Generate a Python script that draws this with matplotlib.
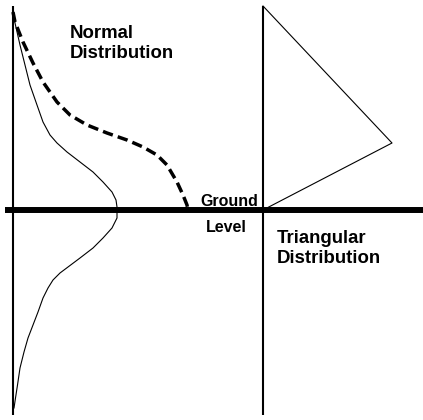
import matplotlib.pyplot as plt

# heights above ground level (negative = below) and curve values
normal_height = [194, 187, 165, 145, 125, 105, 88, 75, 67, 58, 48, 38, 28, 18, 10, 3,
                 -2, -8, -18, -28, -38, -48, -57, -63, -70, -78, -88, -102,
                 -115, -128, -142, -158, -175, -188, -198]
normal_value = [1, 2, 7, 12, 17, 24, 30, 37, 44, 54, 67, 80, 90, 99, 103, 104,
                104, 104, 99, 90, 80, 67, 55, 47, 40, 35, 30, 25,
                20, 15, 11, 7, 4.5, 2.5, 1]

dashed_height = [198, 188, 168, 147, 128, 108, 95, 85, 77, 70, 63, 55, 45, 28, 15, 5, 0]
dashed_value = [0, 2, 10, 20, 30, 44, 57, 74, 94, 114, 130, 144, 154, 164, 170, 174, 175]

tri_height = [204, 67, 0]
tri_value = [250, 379, 250]

plt.rcParams['font.family'] = ['Liberation Sans', 'DejaVu Sans']

fig = plt.figure(figsize=(4.23, 4.20), dpi=100)
ax = fig.add_axes([0, 0, 1, 1])
ax.set_xlim(-13, 410)
ax.set_ylim(-210, 210)
ax.axis('off')

# axes of the sketch
ax.plot([-8, 410], [0, 0], color='black', lw=4.3, solid_capstyle='butt')
ax.plot([0, 0], [204, -205], color='black', lw=1.5, solid_capstyle='butt')
ax.plot([250, 250], [204, -205], color='black', lw=1.5, solid_capstyle='butt')

ax.plot(normal_value, normal_height, color='black', lw=0.8)
ax.plot(dashed_value, dashed_height, color='black', lw=2.5,
        dashes=(3.0, 1.5), dash_capstyle='butt')
ax.plot(tri_value, tri_height, color='black', lw=0.8)

ax.text(57, 185, "Normal\nDistribution", fontsize=13.4, fontweight='bold',
        va='top', ha='left')
ax.text(187, 4, "Ground", fontsize=11.5, fontweight='bold', va='baseline')
ax.text(193, -22, "Level", fontsize=11.5, fontweight='bold', va='baseline')
ax.text(264, -20, "Triangular\nDistribution", fontsize=13.4, fontweight='bold',
        va='top', ha='left')

fig.savefig('out.png', dpi=100)
